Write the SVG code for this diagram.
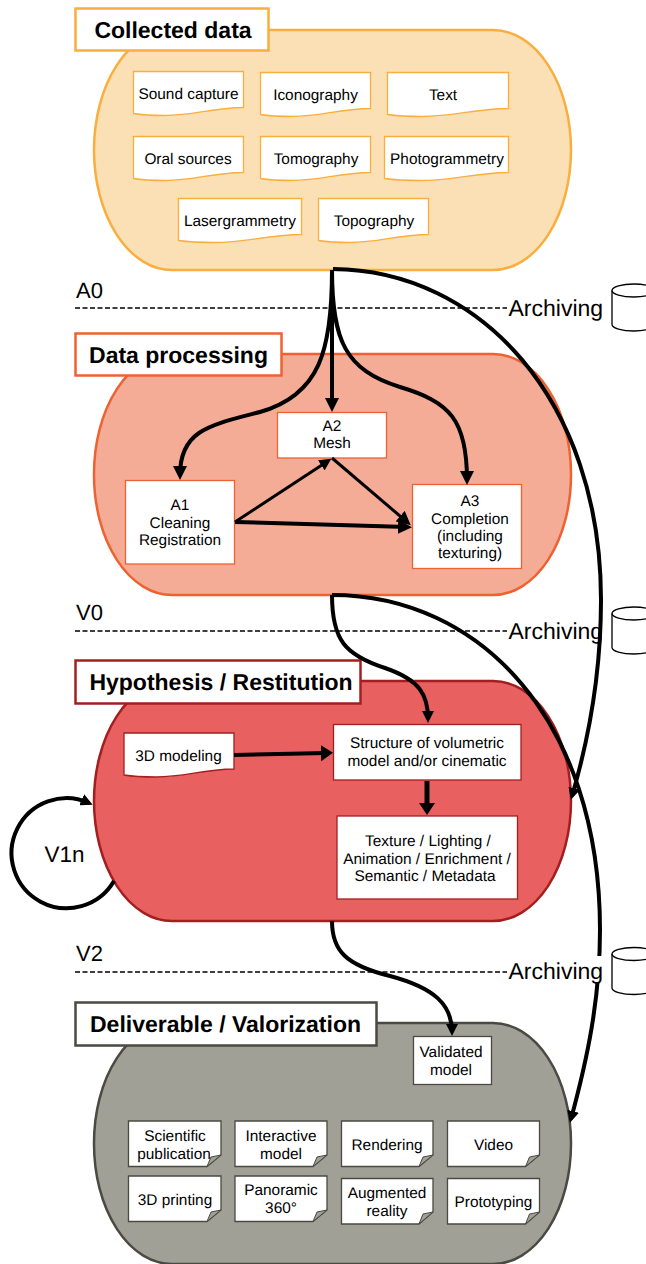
<svg xmlns="http://www.w3.org/2000/svg" width="646" height="1264" viewBox="0 0 646 1264">
<style>
text{font-family:"Liberation Sans",Arial,sans-serif;fill:#000;text-rendering:geometricPrecision}
.t{font-size:15.4px;text-anchor:middle}
.h{font-size:23px;font-weight:bold;text-anchor:middle}
.l{font-size:22px}
.a{font-size:23px}
.w{fill:#fff}
.o{stroke:#F9AE3D}.r{stroke:#EE6130}.d{stroke:#A31F1F}.g{stroke:#4A4A42}
.s1{stroke-width:1.3}.s2{stroke-width:2.5}
.c{fill:none;stroke:#000;stroke-width:4}
.dash{stroke:#000;stroke-width:1.6;stroke-dasharray:5 2.5;fill:none}
.cyl{fill:#fff;stroke:#000;stroke-width:1.3}
.fold{fill:#A0A096;stroke:#4A4A42;stroke-width:1}
</style>
<defs>
<marker id="ah" markerUnits="userSpaceOnUse" markerWidth="16" markerHeight="14" viewBox="0 0 16 14" refX="9" refY="7" orient="auto"><path d="M0,0L14,7L0,14z" fill="#000"/></marker>
<marker id="ahs" markerUnits="userSpaceOnUse" markerWidth="14" markerHeight="12" viewBox="0 0 14 12" refX="8" refY="6" orient="auto"><path d="M0,0L12,6L0,12z" fill="#000"/></marker>
<marker id="ahb" markerUnits="userSpaceOnUse" markerWidth="14" markerHeight="18" viewBox="0 0 14 18" refX="6" refY="9" orient="auto"><path d="M0,1L12,9L0,17z" fill="#000"/></marker>
</defs>

<g id="collected">
<rect x="94" y="30" width="477" height="240" rx="78" ry="120" fill="#FBE0B5" stroke="#F9AE3D" stroke-width="2.5"/>
<rect x="75.500" y="8.500" width="193" height="42" class="w o s2"/>
<text class="h" x="173" y="38">Collected data</text>
</g>
<g id="n-sound"><path class="w o s1" d="M133.500,71.500H243.500V107.500C210,108 195,115.500 165,115.500C150,115.500 142,115 133.500,113.500Z"/><text class="t" x="188.500" y="99">Sound capture</text></g>
<g id="n-icon"><path class="w o s1" d="M260.500,72.500H370.500V108.500C337,109 322,116.500 292,116.500C277,116.500 269,116 260.500,114.500Z"/><text class="t" x="315.500" y="100">Iconography</text></g>
<g id="n-text"><path class="w o s1" d="M387.500,72.500H508.500V108.500C472,109 455,116.500 422,116.500C406,116.500 397,116 387.500,114.500Z"/><text class="t" x="443" y="100">Text</text></g>
<g id="n-oral"><path class="w o s1" d="M133.500,136.500H243.500V172.500C210,173 195,180.500 165,180.500C150,180.500 142,180 133.500,178.500Z"/><text class="t" x="188" y="164">Oral sources</text></g>
<g id="n-tomo"><path class="w o s1" d="M260.500,136.500H370.500V172.500C337,173 322,180.500 292,180.500C277,180.500 269,180 260.500,178.500Z"/><text class="t" x="316" y="164">Tomography</text></g>
<g id="n-photo"><path class="w o s1" d="M384.500,136.500H508.500V172.500C472,173 455,180.500 420,180.500C404,180.500 395,180 384.500,178.500Z"/><text class="t" x="447" y="164">Photogrammetry</text></g>
<g id="n-laser"><path class="w o s1" d="M178.500,198.500H301.500V234.500C265,235 248,242.500 214,242.500C198,242.500 189,242 178.500,240.500Z"/><text class="t" x="240" y="226">Lasergrammetry</text></g>
<g id="n-topo"><path class="w o s1" d="M318.500,198.500H428.500V234.500C395,235 380,242.500 350,242.500C335,242.500 327,242 318.500,240.500Z"/><text class="t" x="374" y="226">Topography</text></g>

<g id="processing">
<rect x="94" y="354" width="477" height="241" rx="78" ry="120" fill="#F5AC96" stroke="#EE6130" stroke-width="2.5"/>
<rect x="75.500" y="333.500" width="206" height="42" class="w r s2"/>
<text class="h" x="178.500" y="363">Data processing</text>
</g>
<g id="n-a2"><rect x="277.500" y="412.500" width="109" height="45.500" class="w r s1"/><text class="t" x="332" y="431">A2</text><text class="t" x="332" y="448">Mesh</text></g>
<g id="n-a1"><rect x="125.500" y="480.500" width="109" height="83.500" class="w r s1"/><text class="t" x="180" y="510">A1</text><text class="t" x="180" y="527.500">Cleaning</text><text class="t" x="180" y="545">Registration</text></g>
<g id="n-a3"><rect x="412.500" y="484.500" width="109" height="84" class="w r s1"/><text class="t" x="470" y="506">A3</text><text class="t" x="470" y="523.500">Completion</text><text class="t" x="470" y="541">(including</text><text class="t" x="470" y="558">texturing)</text></g>

<g id="hypothesis">
<rect x="94" y="681" width="477" height="240" rx="78" ry="120" fill="#E96060" stroke="#A31F1F" stroke-width="2.500"/>
<rect x="75.500" y="660.500" width="285" height="43" class="w d s2"/>
<text class="h" x="221" y="690">Hypothesis / Restitution</text>
</g>
<g id="n-3d"><path class="w d s1" d="M124,733H234V769C201,769.500 186,777 156,777C141,777 133,776.500 124,775Z"/><text class="t" x="178.500" y="761">3D modeling</text></g>
<g id="n-struct"><rect x="333.500" y="724.500" width="187.500" height="55.500" class="w d s1"/><text class="t" x="427" y="748">Structure of volumetric</text><text class="t" x="427" y="766">model and/or cinematic</text></g>
<g id="n-texture"><rect x="337" y="816" width="180.500" height="83" class="w d s1"/><text class="t" x="428" y="846">Texture / Lighting /</text><text class="t" x="427" y="863.500">Animation / Enrichment /</text><text class="t" x="425" y="881">Semantic / Metadata</text></g>
<text id="v1n" x="44.500" y="862" style="font-size:22.5px">V1n</text>

<g id="deliverable">
<rect x="94" y="1023" width="477" height="241" rx="78" ry="120" fill="#A0A096" stroke="#4A4A42" stroke-width="2.500"/>
<rect x="75.500" y="1002.500" width="301" height="43" class="w g s2"/>
<text class="h" x="225.500" y="1032">Deliverable / Valorization</text>
</g>
<g id="n-valid"><rect x="413.500" y="1036.500" width="78" height="48" class="w g s1"/><text class="t" x="451" y="1057">Validated</text><text class="t" x="451" y="1074.500">model</text></g>
<g id="n-sci"><path class="w g s1" d="M128.500,1121H221V1155L207,1166.500H128.500Z"/><path class="fold" d="M207,1166.500L211,1157L221,1155Z"/><text class="t" x="175" y="1141">Scientific</text><text class="t" x="174" y="1158.500">publication</text></g>
<g id="n-inter"><path class="w g s1" d="M235,1121H327V1155L313,1166.500H235Z"/><path class="fold" d="M313,1166.500L317,1157L327,1155Z"/><text class="t" x="281" y="1141">Interactive</text><text class="t" x="281" y="1158.500">model</text></g>
<g id="n-render"><path class="w g s1" d="M341.500,1121H433V1155L419,1166.500H341.500Z"/><path class="fold" d="M419,1166.500L423,1157L433,1155Z"/><text class="t" x="387" y="1150">Rendering</text></g>
<g id="n-video"><path class="w g s1" d="M447.500,1121H539.500V1155L525.500,1166.500H447.500Z"/><path class="fold" d="M525.500,1166.500L529.500,1157L539.500,1155Z"/><text class="t" x="493.500" y="1150">Video</text></g>
<g id="n-3dp"><path class="w g s1" d="M128.500,1176H221V1210L207,1221.500H128.500Z"/><path class="fold" d="M207,1221.500L211,1212L221,1210Z"/><text class="t" x="175" y="1205">3D printing</text></g>
<g id="n-pano"><path class="w g s1" d="M235,1176H327V1210L313,1221.500H235Z"/><path class="fold" d="M313,1221.500L317,1212L327,1210Z"/><text class="t" x="281" y="1195">Panoramic</text><text class="t" x="281" y="1213">360°</text></g>
<g id="n-aug"><path class="w g s1" d="M341.500,1178.500H433V1212L419,1224H341.500Z"/><path class="fold" d="M419,1224L423,1214L433,1212Z"/><text class="t" x="387" y="1198">Augmented</text><text class="t" x="387" y="1215.500">reality</text></g>
<g id="n-proto"><path class="w g s1" d="M447.500,1178.500H539.500V1212L525.500,1224H447.500Z"/><path class="fold" d="M525.500,1224L529.500,1214L539.500,1212Z"/><text class="t" x="493.500" y="1207">Prototyping</text></g>

<g id="levels">
<text class="l" x="76" y="298">A0</text><path class="dash" d="M75,308H507"/>
<text class="l" x="76" y="620">V0</text><path class="dash" d="M75,631H507"/>
<text class="l" x="76" y="961">V2</text><path class="dash" d="M75,972H507"/>
</g>
<g id="cyl1"><path class="cyl" d="M612,290.500A22,6.500 0 0 1 656,290.500V324.500A22,6.500 0 0 1 612,324.500Z"/><path class="cyl" style="fill:none" d="M612,290.500A22,6.500 0 0 0 656,290.500"/></g>
<g id="cyl2"><path class="cyl" d="M612,613.500A22,6.500 0 0 1 656,613.500V647.500A22,6.500 0 0 1 612,647.500Z"/><path class="cyl" style="fill:none" d="M612,613.500A22,6.500 0 0 0 656,613.500"/></g>
<g id="cyl3"><path class="cyl" d="M612,954A22,6.500 0 0 1 656,954V988A22,6.500 0 0 1 612,988Z"/><path class="cyl" style="fill:none" d="M612,954A22,6.500 0 0 0 656,954"/></g>

<text id="arch1" class="a" x="508.500" y="315.500">Archiving</text>
<text id="arch2" class="a" x="508.500" y="638.500">Archiving</text>

<g id="connectors">
<path class="c" marker-end="url(#ah)" d="M332,270C332,350 320,395 260,412C210,425 180,430 180,475"/>
<path class="c" marker-end="url(#ah)" d="M332,270V407"/>
<path class="c" marker-end="url(#ah)" d="M332,270C332,340 345,370 400,387C450,402 467,420 467,480"/>
<path class="c" marker-end="url(#ahs)" d="M333,269C480,270 601,400 601,600C601,680 587,745 572,796"/>
<path class="c" style="stroke-width:3" marker-end="url(#ahs)" d="M235,522L328,461"/>
<path class="c" style="stroke-width:3" marker-end="url(#ah)" d="M332,458L407,522"/>
<path class="c" marker-end="url(#ah)" d="M235,522L407,527"/>
<path class="c" marker-end="url(#ahs)" d="M332,595C332,640 345,655 385,668C420,680 428,695 428,719"/>
<path class="c" marker-end="url(#ahs)" d="M332,595C480,595 600,720 600,930C600,1000 587,1060 571,1119"/>
<path class="c" marker-end="url(#ahb)" d="M234,755L327,753"/>
<path class="c" style="stroke-width:5" marker-end="url(#ahb)" d="M427,781V809"/>
<path class="c" marker-end="url(#ahs)" d="M114,881A55,55 0 1 1 89,803"/>
<path class="c" marker-end="url(#ahs)" d="M332,921C332,950 345,965 390,976C435,988 452,1005 452,1032"/>
</g>
<g id="arch3"><rect x="509" y="956" width="95" height="26" fill="#fff"/><text class="a" x="508.500" y="979">Archiving</text></g>
</svg>
